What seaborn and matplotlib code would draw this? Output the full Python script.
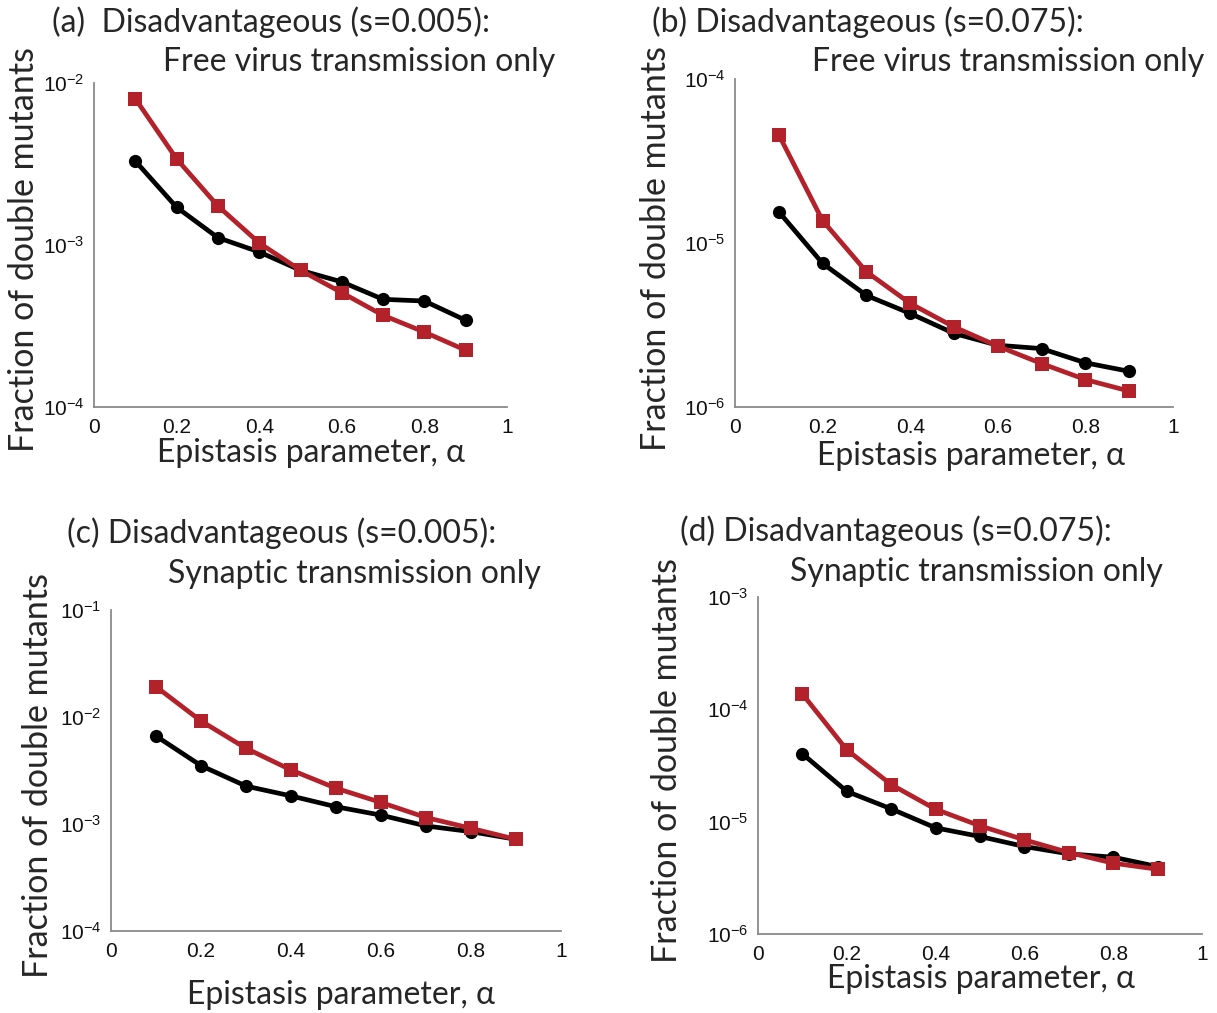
import matplotlib
matplotlib.use("Agg")
import matplotlib.pyplot as plt
import seaborn as sns

# epistasis parameter values
alpha = [0.1, 0.2, 0.3, 0.4, 0.5, 0.6, 0.7, 0.8, 0.9]

# (a) s=0.005, free virus transmission only
a_black = [3.30e-3, 1.71e-3, 1.11e-3, 9.06e-4, 6.98e-4, 5.92e-4, 4.62e-4, 4.51e-4, 3.43e-4]
a_red = [8.0e-3, 3.4e-3, 1.74e-3, 1.03e-3, 6.98e-4, 5.08e-4, 3.68e-4, 2.90e-4, 2.24e-4]

# (b) s=0.075, free virus transmission only
b_black = [1.55e-5, 7.51e-6, 4.79e-6, 3.72e-6, 2.81e-6, 2.38e-6, 2.27e-6, 1.86e-6, 1.65e-6]
b_red = [4.57e-5, 1.37e-5, 6.68e-6, 4.28e-6, 3.08e-6, 2.35e-6, 1.84e-6, 1.47e-6, 1.25e-6]

# (c) s=0.005, synaptic transmission only
c_black = [6.64e-3, 3.51e-3, 2.26e-3, 1.83e-3, 1.45e-3, 1.21e-3, 9.59e-4, 8.48e-4, 7.19e-4]
c_red = [1.92e-2, 9.18e-3, 5.10e-3, 3.20e-3, 2.16e-3, 1.59e-3, 1.15e-3, 9.12e-4, 7.19e-4]

# (d) s=0.075, synaptic transmission only
d_black = [4.02e-5, 1.86e-5, 1.30e-5, 8.81e-6, 7.38e-6, 6.01e-6, 5.17e-6, 4.83e-6, 3.98e-6]
d_red = [1.37e-4, 4.36e-5, 2.14e-5, 1.29e-5, 9.18e-6, 6.89e-6, 5.31e-6, 4.27e-6, 3.77e-6]

x_ticks = [0, 0.2, 0.4, 0.6, 0.8, 1]
x_tick_labels = ["0", "0.2", "0.4", "0.6", "0.8", "1"]

panels = [
    # black, red, y exponents, axes box in px (left, top, right, bottom), title lines, text anchors
    (a_black, a_red, [-4, -3, -2], (94, 83, 507, 407),
     "(a)  Disadvantageous (s=0.005):", "Free virus transmission only",
     (52, 22), (163, 62), (24, 250), (311, 453)),
    (b_black, b_red, [-6, -5, -4], (735, 79, 1173, 407),
     "(b) Disadvantageous (s=0.075):", "Free virus transmission only",
     (652, 22), (812, 62), (656, 248), (971, 456)),
    (c_black, c_red, [-4, -3, -2, -1], (111, 610, 561, 931),
     "(c) Disadvantageous (s=0.005):", "Synaptic transmission only",
     (67, 533), (168, 574), (38, 775), (341, 995)),
    (d_black, d_red, [-6, -5, -4, -3], (758, 597, 1202, 934),
     "(d) Disadvantageous (s=0.075):", "Synaptic transmission only",
     (680, 531), (790, 572), (667, 760), (981, 979)),
]

sns.set_style("white")
plt.rcParams["font.family"] = ["Lato", "DejaVu Sans"]
plt.rcParams["mathtext.fontset"] = "custom"
plt.rcParams["mathtext.rm"] = "Liberation Sans"
plt.rcParams["mathtext.it"] = "Liberation Sans:italic"

W, H = 1217, 1013
fig = plt.figure(figsize=(W / 100, H / 100), dpi=100)

RED = "#b3212b"
SPINE = "#8a8a8a"

for black, red, exps, box, t1, t2, p1, p2, ylab, xlab in panels:
    left, top, right, bottom = box
    ax = fig.add_axes([left / W, 1 - bottom / H, (right - left) / W, (bottom - top) / H])
    sns.lineplot(x=alpha, y=black, ax=ax, color="black", linewidth=3.4,
                 marker="o", markersize=9.5, markeredgewidth=0)
    sns.lineplot(x=alpha, y=red, ax=ax, color=RED, linewidth=3.4,
                 marker="s", markersize=9.5, markeredgewidth=0)
    ax.set_yscale("log")
    ax.set_ylim(10.0 ** exps[0], 10.0 ** exps[-1])
    ax.set_xlim(0, 1)
    ax.set_yticks([10.0 ** e for e in exps])
    ax.set_yticklabels([r"$10^{%d}$" % e for e in exps])
    ax.minorticks_off()
    ax.set_xticks(x_ticks)
    ax.set_xticklabels(x_tick_labels)
    for lbl in ax.get_xticklabels():
        lbl.set_fontfamily("Liberation Sans")
    ax.tick_params(axis="both", direction="in", length=9, width=1.2, color=SPINE,
                   labelsize=15, labelcolor="#111111", pad=8)
    ax.tick_params(axis="y", pad=7)
    for side in ["top", "right"]:
        ax.spines[side].set_visible(False)
    for side in ["left", "bottom"]:
        ax.spines[side].set_color(SPINE)
        ax.spines[side].set_linewidth(1.3)
    ax.set_xlabel("")
    ax.set_ylabel("")

    fig.text(p1[0] / W, 1 - p1[1] / H, t1, fontsize=23, ha="left", va="center")
    fig.text(p2[0] / W, 1 - p2[1] / H, t2, fontsize=23, ha="left", va="center")
    fig.text(ylab[0] / W, 1 - ylab[1] / H, "Fraction of double mutants", fontsize=24.5,
             rotation=90, ha="center", va="center")
    fig.text(xlab[0] / W, 1 - xlab[1] / H, "Epistasis parameter, \u03b1", fontsize=23,
             ha="center", va="center")

fig.savefig("out.png", dpi=100)
